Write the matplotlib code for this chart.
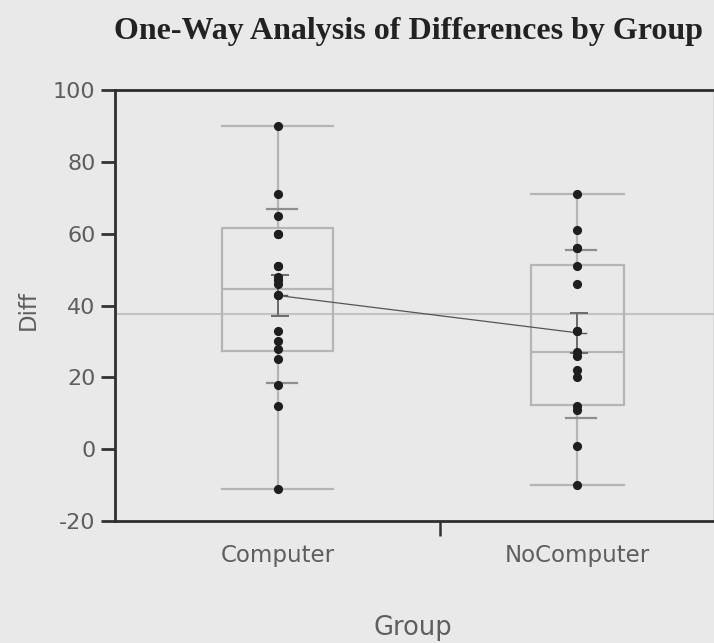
import matplotlib
matplotlib.use("Agg")
import matplotlib.pyplot as plt
import numpy as np

# ---- data ----
groups = ["Computer", "NoComputer"]
group_counts = [19, 16]
computer_diff = [90, 71, 65, 60, 60, 51, 51, 48, 47, 46, 43, 43, 33, 30, 28, 25, 18, 12, -11]
nocomputer_diff = [71, 61, 56, 56, 51, 46, 33, 33, 27, 26, 22, 20, 12, 11, 1, -10]
box_q1 = [27.4, 12.3]
box_median = [44.6, 27.0]
box_q3 = [61.7, 51.4]
whisker_lo = [-11, -10]
whisker_hi = [90, 71]
group_means = [42.8, 32.4]
mean_ci_lo = [37.0, 26.8]
mean_ci_hi = [48.6, 38.0]
sd_lo = [18.5, 8.7]
sd_hi = [67.0, 55.4]
grand_mean = 37.7
y_ticks = [-20, 0, 20, 40, 60, 80, 100]

BG = "#e9e9e9"
BOXC = "#b5b5b5"
TXT = "#5e5e5e"
LABEL_FONT = ["DejaVu Sans"]

fig = plt.figure(figsize=(7.14, 6.43), dpi=100, facecolor=BG)
ax = fig.add_axes([115/714, (643-521)/643, (714-115)/714, (521-90)/643], facecolor=BG)

total = sum(group_counts)
edges = np.concatenate([[0], np.cumsum(group_counts)])
centers = (edges[:-1] + edges[1:]) / 2
px = total / 599.0  # data units per pixel along x

# box plots
stats = []
for i in range(2):
    stats.append(dict(whislo=whisker_lo[i], q1=box_q1[i], med=box_median[i],
                      q3=box_q3[i], whishi=whisker_hi[i], fliers=[]))
widths = [0.34 * c for c in group_counts]
ax.bxp(stats, positions=centers, widths=widths, showfliers=False,
       boxprops=dict(color=BOXC, linewidth=1.6),
       medianprops=dict(color=BOXC, linewidth=1.6),
       whiskerprops=dict(color=BOXC, linewidth=1.6),
       capprops=dict(color=BOXC, linewidth=1.6),
       capwidths=widths, manage_ticks=False, zorder=2)

# grand mean line
ax.axhline(grand_mean, color="#c2c2c2", linewidth=1.5, zorder=1)

# std dev lines and mean error bars
for i in range(2):
    cx_sd = centers[i] + 4 * px
    for v in (sd_lo[i], sd_hi[i]):
        ax.plot([cx_sd - 15 * px, cx_sd + 15 * px], [v, v], color="#8f8f8f", linewidth=1.6, zorder=3)
    cx_ci = centers[i] + 2 * px
    ax.plot([centers[i], centers[i]], [mean_ci_lo[i], mean_ci_hi[i]], color="#6a6a6a", linewidth=1.4, zorder=3)
    for v in (mean_ci_lo[i], mean_ci_hi[i]):
        ax.plot([cx_ci - 8 * px, cx_ci + 8 * px], [v, v], color="#6a6a6a", linewidth=1.4, zorder=3)
    ax.plot([centers[i], centers[i] + 9 * px], [group_means[i], group_means[i]], color="#555555", linewidth=1.0, zorder=3)

# connect means
ax.plot(centers, group_means, color="#555555", linewidth=0.9, zorder=3)

# points
ax.plot(np.full(len(computer_diff), centers[0]), computer_diff, "o", color="#1e1e1e",
        markersize=6.6, markeredgewidth=0, zorder=4)
ax.plot(np.full(len(nocomputer_diff), centers[1]), nocomputer_diff, "o", color="#1e1e1e",
        markersize=6.6, markeredgewidth=0, zorder=4)

ax.set_xlim(0, total)
ax.set_ylim(-20, 100)
ax.set_yticks(y_ticks)
ax.set_yticklabels([str(t) for t in y_ticks], fontsize=16, color=TXT, family=LABEL_FONT)
ax.tick_params(axis="y", length=10, width=2, color="#333333", pad=4)

# x ticks: only the group divider
ax.set_xticks(edges[1:-1])
ax.set_xticklabels([""])
ax.tick_params(axis="x", length=11, width=1.8, color="#333333")
for i, g in enumerate(groups):
    ax.text(centers[i], -29.5, g, ha="center", va="center", fontsize=16.5, color=TXT,
            family=LABEL_FONT)

for side in ("left", "bottom", "top"):
    ax.spines[side].set_color("#2e2e2e")
    ax.spines[side].set_linewidth(2)
ax.spines["right"].set_color("#9a9a9a")
ax.spines["right"].set_linewidth(1)

ax.set_ylabel("Diff", fontsize=16.5, color=TXT, family=LABEL_FONT)
ax.yaxis.set_label_coords(-(115 - 40) / 599, (521 - 310) / 431)
fig.text(413/714, 1 - 628/643, "Group", ha="center", va="center", fontsize=18.5, color=TXT,
         family=LABEL_FONT)
fig.text(408/714, 1 - 31/643, "One-Way Analysis of Differences by Group", ha="center", va="center",
         fontsize=23, fontweight="bold", color="#222222", family=["Liberation Serif", "DejaVu Serif"])

fig.savefig("out.png", dpi=100, facecolor=BG)
